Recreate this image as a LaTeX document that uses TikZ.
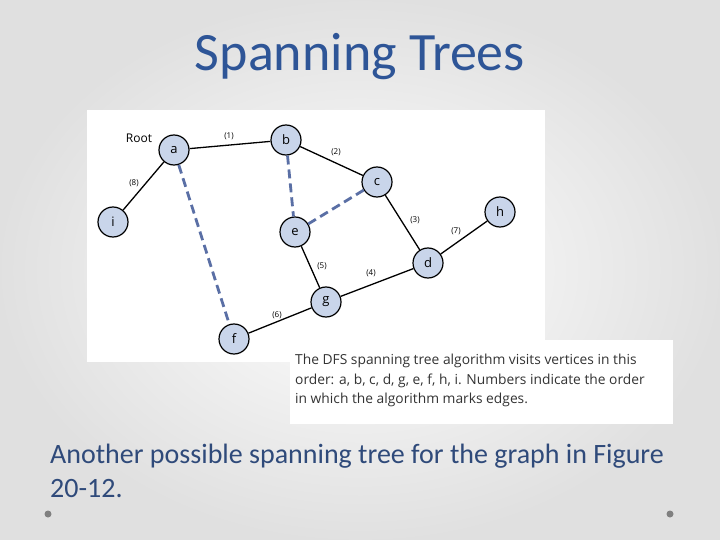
\documentclass[tikz,border=0pt]{standalone}
\usepackage{fontspec}
\setmainfont{Carlito}
\newfontfamily\figfont{Open Sans}
\definecolor{nodefill}{HTML}{C9D5EA}
\definecolor{backblue}{HTML}{5A6FA5}
\definecolor{titleblue}{HTML}{2E5597}
\definecolor{bodyblue}{HTML}{2F4A7A}
\begin{document}
\begin{tikzpicture}[x=1pt,y=-1pt,
  vert/.style={circle,draw=black,line width=1.2pt,fill=nodefill,minimum size=30pt,inner sep=0pt,font=\figfont\fontsize{13}{14}\selectfont},
  tree/.style={line width=1.3pt,black},
  back/.style={line width=2.8pt,draw=backblue,dash pattern=on 9pt off 5pt},
  lab/.style={font=\figfont\fontsize{8}{9}\selectfont,inner sep=0pt}]
\shade[inner color=white,outer color=black!12] (0,0) rectangle (720,540);
\useasboundingbox (0,0) rectangle (720,540);
\fill[white] (87,110) rectangle (545,362);
\fill[white] (290,340) rectangle (673,424);
\node[text=titleblue,font=\fontsize{54}{60}\selectfont] (title) at (360,57) {Spanning Trees};
\node[vert] (a) at (174,150) {a};
\node[vert] (b) at (286,140) {b};
\node[vert] (c) at (377,182) {c};
\node[vert] (e) at (295,232) {e};
\node[vert] (h) at (500,212) {h};
\node[vert] (i) at (113,222) {i};
\node[vert] (d) at (428,263) {d};
\node[vert] (g) at (326,302) {g};
\node[vert] (f) at (234,339) {f};
\draw[tree] (a)--(b); \draw[tree] (b)--(c); \draw[tree] (c)--(d);
\draw[tree] (d)--(g); \draw[tree] (g)--(e); \draw[tree] (g)--(f);
\draw[tree] (d)--(h); \draw[tree] (a)--(i);
\draw[back] (a)--(f); \draw[back] (b)--(e); \draw[back] (c)--(e);
\node[lab] (l1) at (229,136) {(1)};
\node[lab] (l2) at (336,152) {(2)};
\node[lab] (l8) at (134,183) {(8)};
\node[lab] (l3) at (415,220) {(3)};
\node[lab] (l7) at (456,231) {(7)};
\node[lab] (l5) at (322,266) {(5)};
\node[lab] (l4) at (371,273) {(4)};
\node[lab] (l6) at (277,315) {(6)};
\node[font=\figfont\fontsize{12}{13}\selectfont] (root) at (139,138) {Root};
\node[anchor=north west,align=left,text=black!80,font=\figfont\fontsize{13.8}{19.5}\selectfont,inner sep=0pt] (cap) at (295,354)
 {The DFS spanning tree algorithm visits vertices in this\\order: a, b, c, d, g, e, f, h, i. Numbers indicate the order\\in which the algorithm marks edges.};
\node[anchor=north west,align=left,text=bodyblue,font=\fontsize{28}{34}\selectfont,inner sep=0pt] (body) at (50,444)
 {Another possible spanning tree for the graph in Figure\\20-12.};
\fill[gray] (48,514) circle (3.5) coordinate (d1);
\fill[gray] (670,514) circle (3.5) coordinate (d2);
\end{tikzpicture}
\end{document}
